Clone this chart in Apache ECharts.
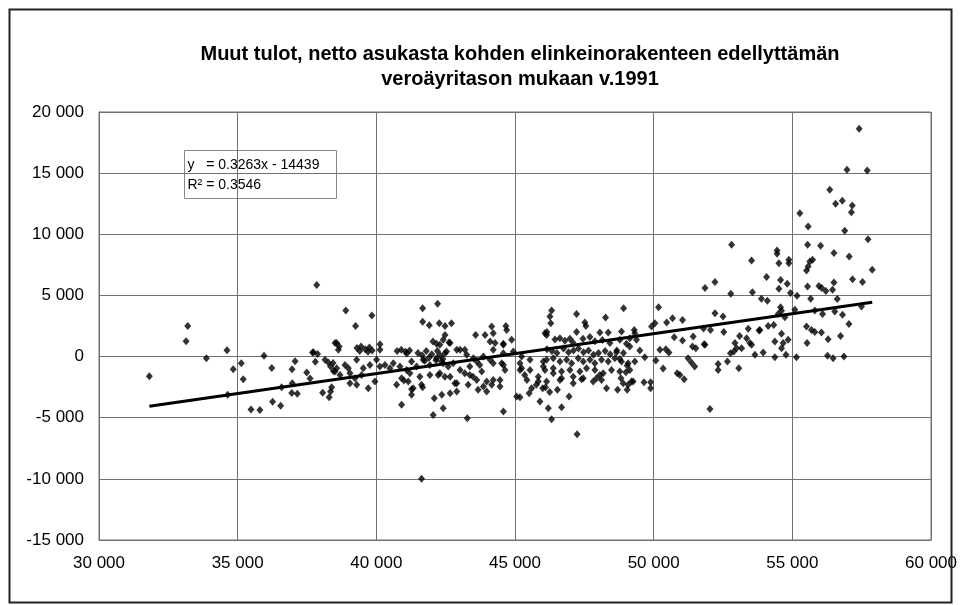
<!DOCTYPE html>
<html>
<head>
<meta charset="utf-8">
<script src="https://cdn.jsdelivr.net/npm/echarts@6/dist/echarts.min.js"></script>
<style>html,body{margin:0;padding:0;background:#fff}#c{width:961px;height:605px}</style>
</head>
<body>
<div id="c"></div>
<script>
const titleLines = ['Muut tulot, netto asukasta kohden elinkeinorakenteen edellyttämän', 'veroäyritason mukaan v.1991'];
const equationText = ['y   = 0.3263x - 14439', 'R\u00b2 = 0.3546'];
const trendSlope = 0.3263;
const trendIntercept = -14439;
const xRange = [30000, 60000, 5000];
const yRange = [-15000, 20000, 5000];

const pointsWest = [
[31815,-1600],[33200,2510],[33140,1260],[33870,-130],[34615,520],[34640,-3130],[34840,-1030],[35130,-540],[35200,-1850],[35480,-4330],[35800,-4360],[35950,60],[36230,-925],[36260,-3700],[36550,-4030],[36585,-2500],[36960,-1030],[37070,-380],[36970,-2180],[36950,-2970],[37150,-3050],[37490,-1310],[37610,-1800],[37700,330],[37880,220],[37800,-430],[38065,-2950],[38150,-270],[38270,-490],[38350,-820],[38450,-1170],[38570,1100],[38390,-2500],[38350,-2860],[38300,-3320],[38660,820],[37850,5860],[37730,360]
];

const pointsCentral = [
[38900,3760],[39840,3350],[39250,2510],[38510,1120],[38630,550],[40130,1010],[40130,550],
[39300,700],[39450,820],[39600,600],[39750,750],[39850,500],[39700,400],[39400,450],
[40750,450],[40900,550],[41050,400],[41200,500],[41100,250],
[41500,300],[41650,100],[41800,450],[41900,-100],[42000,200],[42150,-300],[42300,100],[42400,-200],[41750,-350],[42200,450],
[42040,1230],[42290,960],
[38440,-520],[38570,-950],[38870,-680],[38990,-950],[39290,-270],[39530,-950],[39770,-680],[40010,-270],[40130,-820],[40310,-680],[40490,-950],[40610,-540],[40850,-820],[41090,-1090],[41270,-410],[41450,-820],[41690,-270],[41930,-680],[42170,-130],[42410,-540],
[38510,-1230],[38690,-1500],[39050,-1360],[39230,-1770],[39470,-1500],[39710,-2590],[39950,-2040],[40730,-2310],[40910,-1770],[41210,-1360],[41330,-2590],[41630,-2310],[41150,-2040],[41570,-1640],[41930,-1500],[42290,-1360],
[39050,-2180],[39290,-2310],
[40910,-3950],[40995,-1960],[41270,-2670],[41270,-3130],[41670,-2500],[41670,3960],[42210,4310],[41670,2840],[41910,2570],[42270,2730],[42475,2510],[42710,2730],[42475,1770],[42620,1150],[42170,1040],[42900,550],[42475,280],[42090,-3400],[42410,-4220],[42050,-4770],[42360,-3130],[42660,-3000],[42900,-2860],[42900,-2180],[42230,-1500],[42660,-1640],[43280,-5040],[43580,1770],[43920,1770],[44160,2450],[44670,2510],[44215,1910],[44100,1230],[44280,1100],[44580,1040],[44880,1370],[44215,550],[43190,550],[43370,-1500],[43190,-1360],[43620,-1910],[43980,-2040],[44215,-1910],[43670,-2720],[43980,-2860],[44460,-2450],[44580,-4500],[45060,-3270],[45240,-950],[45240,0],
[41630,-10000],
[44700,2180],[44580,960],[42410,1370],[42660,1100],[42530,410],[43020,550],[43260,140],[43500,-130],[43620,-410],[43860,0],[44100,-270],[44215,-540],[44520,-540],[44580,280],[44940,410],[42350,-410],[42590,-820],[42770,-540],[43020,-1090],[43370,-820],[43730,-680],[43800,-1230],[43490,-1640],[44160,-2310],[44460,-1910],[44580,-680],[44640,-1090],[45180,-540],[45180,-1090],[45540,-270],[45540,-1090],[45840,-1640],[45840,-2040],[46020,-410],[46020,-820],[42470,-1640],[42830,-2180],[43310,-2310],[43860,-2450],[45430,-1910],[45770,-2310]
];

const pointsMiddle = [
[48915,3960],[50175,4040],[47220,3490],[48265,3190],[46320,3760],[46260,3270],[46290,2730],[47520,2780],[47555,2510],[46150,2000],[47220,2000],[48060,1960],[48360,1960],[49300,2180],[50045,2730],[49925,2450],[50470,2780],[50680,3140],[51040,3000],[52210,3550],[52050,2180],[50740,1590],[51040,1310],[51425,1640],[51400,820],[51520,690],[51820,1010],[50225,550],[50440,600],[50550,330],[49500,490],[49680,-50],[50080,-330],[50340,-980],[51240,-130],[51360,-490],[51480,-820],[50850,-1360],[50945,-1500],[51100,-1850],[52325,-600],[52325,-1090],[52030,-4280],[49890,-2090],[49890,-2590],[49650,-2090],[49200,-2040],[49080,-2310],[49045,-2720],[48820,-1770],[49000,-1280],[49045,-740],[48780,-190],[48660,360],[49020,1040],[49380,1370],[49140,820],[49320,1910],
[45510,-3000],[45180,-3320],[45900,-3680],[46200,-4220],[46680,-4140],[46950,-3270],[46320,-5120],[47240,-6350],[47940,-1770],[48060,-1500],[47400,-1850],[47100,-1640],[46680,-1770],[46380,-1360],
[45350,-1500],[45600,-2600],[46100,-2500],[46250,-2900],
[46080,1910],[46140,1770],[48840,2050],
[46440,1400],[46620,1500],[46800,1300],[46980,1450],[47090,1150],
[47450,1450],[47700,1600],[47880,1250],[48150,1350],[48420,1100],
[48780,1370],[49140,1500],
[46150,600],[46330,450],[46510,300],[46750,650],[46930,350],[47110,500],[47290,650],[47470,350],[47650,500],[47830,150],[48010,300],[48250,450],[48430,200],[48670,500],[48910,300],
[46140,-270],[46380,-130],[46620,-410],[46860,-270],[47040,-540],[47280,-130],[47460,-410],[47700,-270],[47880,-540],[48120,-270],[48360,-410],[48600,-130],[48840,-410],[49080,-540],[49320,-410],
[46080,-1090],[46380,-950],[46680,-1230],[46980,-1090],[47340,-1230],[47580,-950],[47880,-1090],[48180,-1360],[48480,-1090],[48780,-1230],[49140,-1090],
[46140,-2040],[46620,-1910],[47100,-2180],[47460,-1770],[47820,-2040],[48120,-1910],[48900,-2180],[49260,-2040],
[46000,-2590],[46530,-2720],[48300,-2590],[48700,-2720]
];

const pointsEast = [
[52810,9140],[53530,7850],[54450,8670],[54450,8400],[54515,7640],[54875,7910],[54875,7640],[55550,9140],[56020,9060],[56500,8460],[55630,7770],[55730,7910],[55510,7030],[55570,7360],[57050,8180],[57730,9600],[57880,7090],[57170,6330],[57530,6090],[56890,10280],[54070,6500],[54575,6270],[54815,5950],[54515,5540],[55550,5730],[55960,5780],[56060,5600],[56210,5370],[56500,6060],[56450,5460],[51850,5600],[52210,6090],[52780,5130],[53560,5270],[53885,4720],[54100,4560],[54935,5190],[55170,4970],[55660,4720],[56620,4700],[54575,4040],[54610,3740],[54490,3490],[55090,3820],[52500,3270],[54730,3220],[55810,3760],[56090,3490],[56530,3680],[56810,3410],[57495,4090],[57040,2670],[52530,2000],[53410,2270],[53800,2130],[54130,2510],[54330,2590],[54610,1860],[54850,1370],[54670,1100],[54610,690],[55510,2450],[55690,2180],[55810,2000],[56050,1960],[56290,1420],[56740,1690],[55530,1100],[53100,1690],[52930,1100],[52990,690],[53170,690],[53350,1500],[53470,1100],[53530,960],[53830,2180],[54370,1230],[51850,960],[52770,280],[52890,410],[53650,140],[53950,330],[54370,-50],[54770,140],[55150,-50],[56270,60],[56470,-130],[56860,0],[52660,-410],[53070,-950],[51800,2300],
[57410,18630],[56970,15270],[57700,15220],[56350,13640],[56560,12490],[56800,12740],[57160,12350],[57130,11810],[55270,11730],[55570,10640]
];

const allPoints = pointsWest.concat(pointsCentral, pointsMiddle, pointsEast);
const xs = allPoints.map(p => p[0]);
const xMin = Math.min.apply(null, xs), xMax = Math.max.apply(null, xs);
const trendData = [[xMin, trendSlope * xMin + trendIntercept], [xMax, trendSlope * xMax + trendIntercept]];

const FONT = "'Liberation Sans', Arial, sans-serif";
function fmt(v) {
  if (v === 0) return '0';
  const s = String(Math.abs(v)).replace(/\B(?=(\d{3})+(?!\d))/g, ' ');
  return (v < 0 ? '-' : '') + s;
}

const chart = echarts.init(document.getElementById('c'), null, {renderer: 'canvas'});
chart.setOption({
  animation: false,
  backgroundColor: '#fff',
  title: {
    text: titleLines.join('\n'),
    left: 515, top: 37, textAlign: 'center',
    textStyle: {fontFamily: FONT, fontSize: 20, fontWeight: 'bold', color: '#000', lineHeight: 25}
  },
  grid: {left: 99, right: 30, top: 112, bottom: 65, show: true, borderColor: '#707070', borderWidth: 1},
  xAxis: {
    type: 'value', min: xRange[0], max: xRange[1], interval: xRange[2],
    axisLine: {show: true, onZero: false, lineStyle: {color: '#707070', width: 1}},
    axisTick: {show: false},
    splitLine: {show: true, lineStyle: {color: '#707070', width: 1}},
    axisLabel: {formatter: fmt, fontFamily: FONT, fontSize: 17, color: '#000', margin: 15}
  },
  yAxis: {
    type: 'value', min: yRange[0], max: yRange[1], interval: yRange[2],
    axisLine: {show: true, onZero: false, lineStyle: {color: '#707070', width: 1}},
    axisTick: {show: false},
    splitLine: {show: true, lineStyle: {color: '#707070', width: 1}},
    axisLabel: {formatter: fmt, fontFamily: FONT, fontSize: 17, color: '#000', margin: 15}
  },
  series: [
    {
      type: 'scatter', data: allPoints, symbol: 'diamond', symbolSize: [7, 8],
      itemStyle: {color: '#000'}, z: 3
    },
    {
      type: 'line', data: trendData, showSymbol: false, symbol: 'none',
      lineStyle: {color: '#000', width: 3}, z: 4
    }
  ],
  graphic: [
    {type: 'rect', left: 7, top: 7, shape: {width: 942, height: 593},
     style: {fill: null, stroke: '#222', lineWidth: 2}, z: 100, silent: true},
    {type: 'group', left: 184, top: 150, z: 50, children: [
      {type: 'rect', shape: {x: 0, y: 0, width: 152, height: 48},
       style: {fill: '#fff', stroke: '#888', lineWidth: 1}},
      {type: 'text', x: 3, y: 8, style: {text: equationText[0], font: '14px ' + FONT, fill: '#000'}},
      {type: 'text', x: 3, y: 28, style: {text: equationText[1], font: '14px ' + FONT, fill: '#000'}}
    ]}
  ]
});
</script>
</body>
</html>
